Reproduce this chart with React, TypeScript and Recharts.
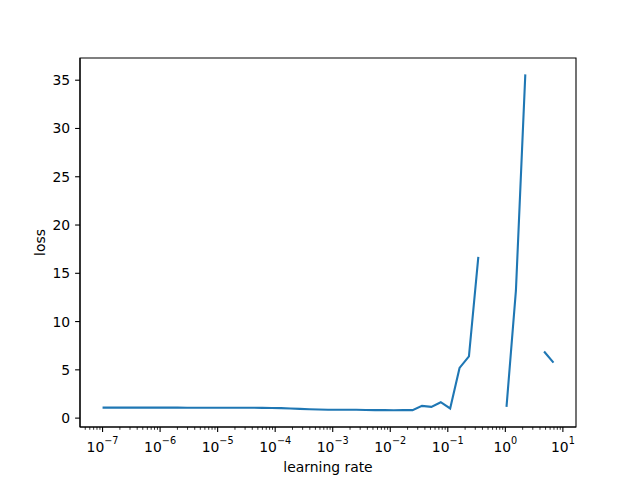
import { LineChart, Line, XAxis, YAxis, ReferenceArea, Label } from "recharts";

// learning rates swept by the finder (log spaced, 1e-7 .. ~7)
const learningRates = [
  1.0e-7, 1.456e-7, 2.121e-7, 3.089e-7, 4.498e-7, 6.551e-7, 9.541e-7,
  1.389e-6, 2.024e-6, 2.947e-6, 4.292e-6, 6.251e-6, 9.103e-6,
  1.326e-5, 1.931e-5, 2.812e-5, 4.095e-5, 5.964e-5, 8.685e-5,
  1.265e-4, 1.842e-4, 2.683e-4, 3.907e-4, 5.69e-4, 8.286e-4,
  1.207e-3, 1.758e-3, 2.56e-3, 3.728e-3, 5.429e-3, 7.906e-3,
  1.151e-2, 1.677e-2, 2.442e-2, 3.556e-2, 5.179e-2, 7.543e-2,
  0.1099, 0.16, 0.233, 0.3393, 0.4942, 0.7197,
  1.0481, 1.5264, 2.223, 3.2375, 4.7149, 6.8665,
];

// loss at each rate; null = diverged (nan), leaves a gap
const losses: (number | null)[] = [
  1.09, 1.09, 1.09, 1.09, 1.09, 1.09, 1.09,
  1.09, 1.09, 1.08, 1.08, 1.08, 1.08,
  1.08, 1.07, 1.07, 1.07, 1.06, 1.05,
  1.03, 1.0, 0.96, 0.92, 0.89, 0.86,
  0.86, 0.87, 0.86, 0.84, 0.83, 0.83,
  0.82, 0.83, 0.83, 1.27, 1.17, 1.65,
  1.0, 5.2, 6.4, 16.7, null, null,
  1.17, 13.2, 35.6, null, 6.9, 5.75,
];

const majorTicks = [1e-7, 1e-6, 1e-5, 1e-4, 1e-3, 1e-2, 1e-1, 1e0, 1e1];
const yTicks = [0, 5, 10, 15, 20, 25, 30, 35];

const X_DOMAIN: [number, number] = [Math.pow(10, -7.392), Math.pow(10, 1.228)];
const Y_DOMAIN: [number, number] = [-0.92, 37.3];

const minorTicks: number[] = [];
[1e-8, ...majorTicks].forEach((base) => {
  for (let m = 2; m <= 9; m++) {
    const v = m * base;
    if (v > X_DOMAIN[0] && v < X_DOMAIN[1]) minorTicks.push(v);
  }
});
const allXTicks = [...majorTicks, ...minorTicks].sort((a, b) => a - b);

const data = learningRates.map((lr, i) => ({ lr, loss: losses[i] }));

const FONT = "DejaVu Sans";

function LogTick(props: any) {
  const { x, y, payload } = props;
  const lg = Math.log10(payload.value);
  const exp = Math.round(lg);
  const major = Math.abs(lg - exp) < 1e-6;
  return (
    <g>
      <line
        x1={x}
        x2={x}
        y1={y}
        y2={y + (major ? 4.9 : 2.8)}
        stroke="#000"
        strokeWidth={major ? 1.1 : 0.8}
      />
      {major && (
        <text x={x} y={y + 25} textAnchor="middle" fontFamily={FONT} fontSize={13.9} fill="#000">
          <tspan>10</tspan>
          <tspan dy={-8} fontSize={9.7}>
            {exp < 0 ? `\u2212${-exp}` : `${exp}`}
          </tspan>
        </text>
      )}
    </g>
  );
}

export default function App() {
  return (
    <div style={{ position: "absolute", left: 0, top: 0, background: "#fff" }}>
      <LineChart
        width={640}
        height={480}
        data={data}
        margin={{ top: 58, right: 64, bottom: 0, left: 0 }}
      >
        <XAxis
          dataKey="lr"
          type="number"
          scale="log"
          domain={X_DOMAIN}
          allowDataOverflow
          ticks={allXTicks}
          interval={0}
          tick={<LogTick />}
          tickLine={false}
          tickSize={0}
          tickMargin={0}
          height={53}
          axisLine={{ stroke: "#000", strokeWidth: 1.1 }}
        >
          <Label
            value="learning rate"
            position="insideBottom"
            offset={8}
            style={{ fontFamily: FONT, fontSize: 13.9, fill: "#000" }}
          />
        </XAxis>
        <YAxis
          type="number"
          domain={Y_DOMAIN}
          allowDataOverflow
          ticks={yTicks}
          interval={0}
          width={80}
          tickSize={4.9}
          tickMargin={4.9}
          tickLine={{ stroke: "#000", strokeWidth: 1.1 }}
          axisLine={{ stroke: "#000", strokeWidth: 1.1 }}
          tick={{ fontFamily: FONT, fontSize: 13.9, fill: "#000" }}
        >
          <Label
            value="loss"
            angle={-90}
            position="center"
            style={{ fontFamily: FONT, fontSize: 13.9, fill: "#000", textAnchor: "middle" }}
          />
        </YAxis>
        <ReferenceArea
          x1={X_DOMAIN[0]}
          x2={X_DOMAIN[1]}
          y1={Y_DOMAIN[0]}
          y2={Y_DOMAIN[1]}
          fill="none"
          fillOpacity={0}
          stroke="#000"
          strokeWidth={1.1}
          ifOverflow="visible"
        />
        <Line
          dataKey="loss"
          type="linear"
          stroke="#1f77b4"
          strokeWidth={2.1}
          dot={false}
          activeDot={false}
          connectNulls={false}
          isAnimationActive={false}
        />
      </LineChart>
    </div>
  );
}
